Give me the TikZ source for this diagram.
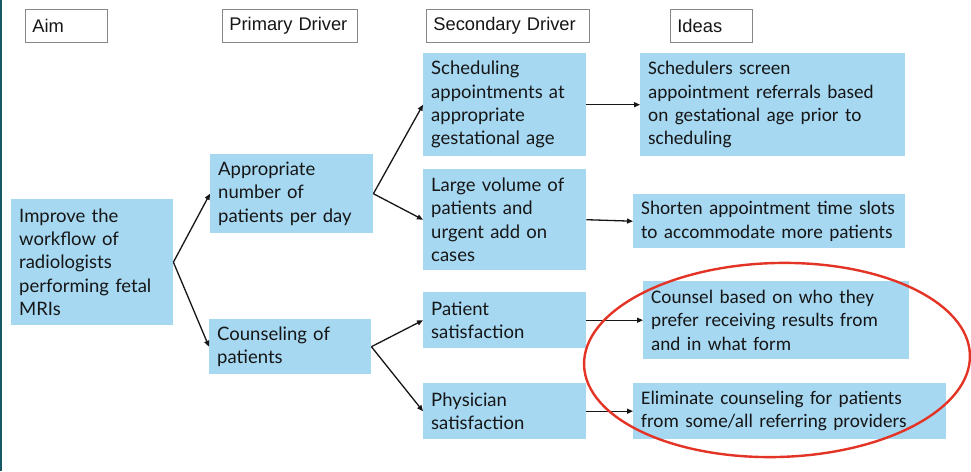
\documentclass[tikz,border=0pt]{standalone}
\usepackage{fontspec}
\setmainfont{Carlito}
\newfontfamily\hdrfont{Liberation Sans}
\newfontfamily\aptfont{Lato}
\usetikzlibrary{arrows.meta}

\definecolor{boxblue}{RGB}{166,216,242}
\definecolor{inkblack}{RGB}{22,22,22}
\definecolor{framegray}{RGB}{135,135,135}
\definecolor{ringred}{RGB}{228,52,38}
\definecolor{edgeteal}{RGB}{22,88,100}

\tikzset{
  nobreak/.style={execute at begin node={\hyphenpenalty=10000\relax}},
  hdrbox/.style={nobreak, draw=framegray, line width=0.8pt, fill=white, anchor=north west,
    inner xsep=7pt, inner ysep=0pt, align=left, text=inkblack,
    font=\hdrfont\fontsize{18.3}{22}\selectfont},
  drvbox/.style={nobreak, fill=boxblue, draw=none, anchor=north west,
    inner xsep=8pt, inner ysep=0pt, align=left, text=inkblack,
    font=\aptfont\fontsize{18.5}{23.3}\selectfont},
  ideabox/.style={nobreak, fill=boxblue, draw=none, anchor=north west,
    inner xsep=8pt, inner ysep=0pt, align=left, text=inkblack,
    font=\fontsize{19.2}{23.4}\selectfont},
  link/.style={draw=inkblack, line width=1.3pt,
    -{Triangle[length=6pt,width=5pt]}},
  ring/.style={draw=ringred, line width=2.4pt}
}

\begin{document}
\begin{tikzpicture}[x=1pt, y=-1pt]
  \useasboundingbox (0,0) rectangle (971,471);
  \fill[white] (0,0) rectangle (971,471);
  \fill[edgeteal] (0,0) rectangle (1.5,471);

  % column headers
  \node[hdrbox, text width=68pt,  minimum height=33pt] (hAim) at (25,9)  {Aim};
  \node[hdrbox, text width=121pt, minimum height=33pt] (hPri) at (222,9) {Primary~Driver};
  \node[hdrbox, text width=149pt, minimum height=33pt] (hSec) at (426,9) {Secondary~Driver};
  \node[hdrbox, text width=68pt,  minimum height=33pt] (hIde) at (670,9) {Ideas};

  % aim
  \node[drvbox, text width=146pt, minimum height=126pt] (aim) at (11,199)
    {Improve~the\\workflow~of\\radiologists\\performing~fetal\\MRIs};

  % primary drivers
  \node[drvbox, text width=147pt, minimum height=79pt] (p1) at (210,154)
    {Appropriate\\number~of\\patients~per~day};
  \node[drvbox, text width=146pt, minimum height=55pt] (p2) at (209,319)
    {Counseling~of\\patients};

  % secondary drivers
  \node[drvbox, text width=147pt, minimum height=103pt] (s1) at (423,53)
    {Scheduling\\appointments~at\\appropriate\\gestational~age};
  \node[drvbox, text width=147pt, minimum height=101pt] (s2) at (423,169)
    {Large~volume~of\\patients~and\\urgent~add~on\\cases};
  \node[drvbox, text width=147pt, minimum height=56pt] (s3) at (423,292)
    {Patient\\satisfaction};
  \node[drvbox, text width=147pt, minimum height=56pt] (s4) at (423,383)
    {Physician\\satisfaction};

  % ideas
  \node[ideabox, text width=249pt, minimum height=103pt] (i1) at (640,53)
    {Schedulers~screen\\appointment~referrals~based\\on~gestational~age~prior~to\\scheduling};
  \node[ideabox, text width=256pt, minimum height=54pt] (i2) at (633,194)
    {Shorten~appointment~time~slots\\to~accommodate~more~patients};
  \node[ideabox, text width=250pt, minimum height=78pt] (i3) at (643,281)
    {Counsel~based~on~who~they\\prefer~receiving~results~from\\and~in~what~form};
  \node[ideabox, text width=297pt, minimum height=56pt] (i4) at (633,383)
    {Eliminate~counseling~for~patients\\from~some/all~referring~providers};

  % connectors
  \draw[link] (aim.east) -- (p1.west);
  \draw[link] (aim.east) -- (p2.west);
  \draw[link] (p1.east) -- (s1.west);
  \draw[link] (p1.east) -- (s2.west);
  \draw[link] (p2.east) -- (s3.west);
  \draw[link] (p2.east) -- (s4.west);
  \draw[link] (s1.east) -- (i1.west);
  \draw[link] (s2.east) -- (i2.west);
  \draw[link] (s3.east) -- (i3.west);
  \draw[link] (s4.east) -- (i4.west);

  % highlight ring around the counseling ideas
  \draw[ring, rotate around={1.5:(777,360)}] (777,360) ellipse [x radius=193pt, y radius=97pt];
\end{tikzpicture}
\end{document}
